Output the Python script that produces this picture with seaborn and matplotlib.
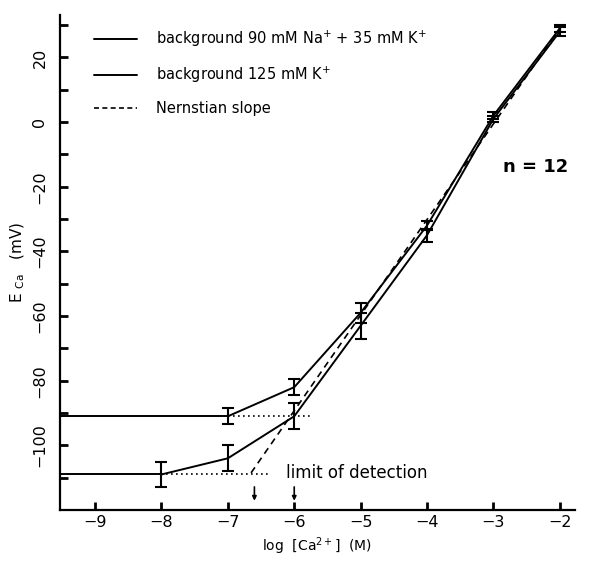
import numpy as np
import pandas as pd
import matplotlib
matplotlib.use("Agg")
import matplotlib.pyplot as plt
from matplotlib.lines import Line2D
import seaborn as sns

# data
k_log_ca = [-8, -7, -6, -5, -4, -3, -2]
k_mean = [-109, -104, -91, -63, -35, 1, 28]
k_err = [4, 4, 4, 4, 2, 1, 1.5]

na_log_ca = [-7, -6, -5, -4, -3, -2]
na_mean = [-91, -82, -59, -32, 2, 29]
na_err = [2.5, 2.5, 3, 1.5, 1, 1]

nernst_x = [-6.65, -2]
nernst_y = [-108.5, 29]

detect_limits = [-6.6, -6.0]

legend_labels = ["background 90 mM Na$^{+}$ + 35 mM K$^{+}$",
                 "background 125 mM K$^{+}$",
                 "Nernstian slope"]

sns.set_style("ticks", {"axes.edgecolor": "black", "text.color": "black",
                        "axes.labelcolor": "black", "xtick.color": "black",
                        "ytick.color": "black"})
plot_font = ["Liberation Sans Narrow", "DejaVu Sans"]
plt.rcParams["font.family"] = plot_font
plt.rcParams["mathtext.fontset"] = "dejavusans"

fig = plt.figure(figsize=(5.99, 5.62), dpi=100)
ax = fig.add_axes([0.100, 0.0925, 0.86, 0.88])
xmin, xmax = -9.53, -1.77
ax.set_xlim(xmin, xmax)
ax.set_ylim(-120, 33)

k_df = pd.DataFrame({"log_ca": k_log_ca, "E": k_mean})
na_df = pd.DataFrame({"log_ca": na_log_ca, "E": na_mean})

lw = 1.4
sns.lineplot(data=na_df, x="log_ca", y="E", color="black", lw=lw, ax=ax, estimator=None)
sns.lineplot(data=k_df, x="log_ca", y="E", color="black", lw=lw, ax=ax, estimator=None)
ax.errorbar(na_log_ca, na_mean, yerr=na_err, fmt="none", ecolor="black", elinewidth=1.5, capsize=4, capthick=1.5)
ax.errorbar(k_log_ca, k_mean, yerr=k_err, fmt="none", ecolor="black", elinewidth=1.5, capsize=4, capthick=1.5)

# plateaus back to the axis
ax.plot([xmin, na_log_ca[0]], [na_mean[0], na_mean[0]], color="black", lw=lw)
ax.plot([xmin, k_log_ca[0]], [k_mean[0], k_mean[0]], color="black", lw=lw)

# dotted extrapolations
ax.plot([na_log_ca[0], -5.72], [na_mean[0], na_mean[0]], color="black", lw=1.2, ls=(0, (1, 2)))
ax.plot([k_log_ca[0], -6.35], [k_mean[0], k_mean[0]], color="black", lw=1.2, ls=(0, (1, 2)))

# nernstian slope
ax.plot(nernst_x, nernst_y, color="black", lw=1.2, ls=(0, (4, 3)))

for xd in detect_limits:
    ax.annotate("", xy=(xd, -118), xytext=(xd, -112),
                arrowprops=dict(arrowstyle="-|>", color="black", lw=1.2, mutation_scale=6))

ax.text(-6.12, -108.5, "limit of detection", fontsize=12, family="DejaVu Sans",
        va="center", ha="left")
ax.text(-2.85, -14, "n = 12", fontsize=13, family="DejaVu Sans", fontweight="bold",
        va="center", ha="left")

ax.set_xticks(range(-9, -1))
ax.set_xticklabels([str(v).replace("-", "\u2212") for v in range(-9, -1)])
ax.set_yticks(np.arange(-110, 31, 10))
ax.set_yticklabels([str(v).replace("-", "\u2212") if v % 20 == 0 else "" for v in range(-110, 31, 10)],
                   rotation=90, va="center")
ax.tick_params(direction="in", length=6, width=2, labelsize=11.5, colors="black")
ax.tick_params(axis="y", pad=9)
sns.despine(ax=ax)
for s in ["left", "bottom"]:
    ax.spines[s].set_linewidth(1.6)

ax.set_xlabel("log  [Ca$^{2+}$]  (M)", fontsize=10)
ax.set_ylabel("E $_{\\rm Ca}$   (mV)", fontsize=11)

handles = [Line2D([], [], color="black", lw=1.4),
           Line2D([], [], color="black", lw=1.4),
           Line2D([], [], color="black", lw=1.2, ls=(0, (3, 2)))]
leg = ax.legend(handles, legend_labels, loc="upper left", frameon=False, fontsize=10.5,
                handlelength=3, handletextpad=1.3, labelspacing=1.1,
                bbox_to_anchor=(0.04, 1.0))
for t in leg.get_texts():
    t.set_color("black")

fig.savefig("out.png", dpi=100)
